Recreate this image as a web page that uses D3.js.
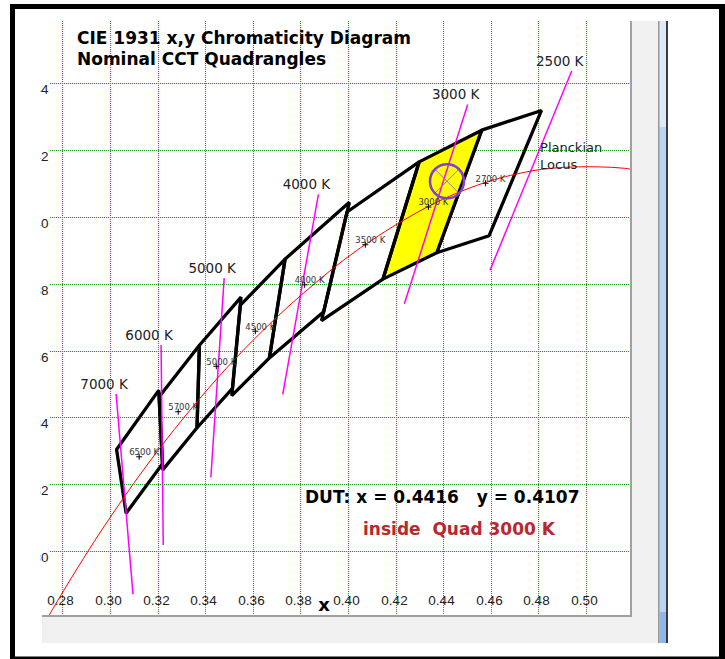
<!DOCTYPE html>
<html>
<head>
<meta charset="UTF-8" />
<title>CIE 1931 x,y Chromaticity Diagram</title>
<script src="https://cdnjs.cloudflare.com/ajax/libs/d3/7.8.5/d3.min.js"></script>
<style>
  body { margin: 0; padding: 0; background: #fff; }
  svg { display: block; font-family: "DejaVu Sans", sans-serif; }
  .grid line { stroke: #1c9a1c; stroke-width: 1px; stroke-dasharray: 1,1; }
  .grid path { display: none; }
  .grid text { font-size: 13.5px; fill: #222; }
  .quad { stroke: #000; stroke-width: 3.3px; stroke-linejoin: bevel; }
  .iso { stroke: #ff00ff; stroke-width: 1.5px; }
  .isoLabel { font-size: 13.5px; fill: #222; text-anchor: middle; }
  .small { font-size: 8.5px; fill: #333; }
  .bold { font-weight: bold; }
</style>
</head>
<body>
<svg id="chart" width="725" height="659"></svg>
<script>
// axis ticks
const xTicks = [0.28, 0.30, 0.32, 0.34, 0.36, 0.38, 0.40, 0.42, 0.44, 0.46, 0.48, 0.50];
const yTicks = [0.30, 0.32, 0.34, 0.36, 0.38, 0.40, 0.42, 0.44];

// ANSI nominal CCT quadrangles
const quadNames = ["2700 K", "3000 K", "3500 K", "4000 K", "4500 K", "5000 K", "5700 K", "6500 K"];
const quadCenters = [
  [0.4578, 0.4101], [0.4338, 0.4030], [0.4073, 0.3917], [0.3818, 0.3797],
  [0.3611, 0.3658], [0.3447, 0.3553], [0.3287, 0.3417], [0.3123, 0.3282]
];
const quadCorners = [
  [[0.4813, 0.4319], [0.4562, 0.4260], [0.4373, 0.3893], [0.4593, 0.3944]],
  [[0.4562, 0.4260], [0.4299, 0.4165], [0.4147, 0.3814], [0.4373, 0.3893]],
  [[0.4299, 0.4165], [0.3996, 0.4015], [0.3889, 0.3690], [0.4147, 0.3814]],
  [[0.4006, 0.4044], [0.3736, 0.3874], [0.3670, 0.3578], [0.3898, 0.3716]],
  [[0.3736, 0.3874], [0.3548, 0.3736], [0.3512, 0.3465], [0.3670, 0.3578]],
  [[0.3551, 0.3760], [0.3376, 0.3616], [0.3366, 0.3369], [0.3515, 0.3487]],
  [[0.3376, 0.3616], [0.3207, 0.3462], [0.3222, 0.3243], [0.3366, 0.3369]],
  [[0.3205, 0.3481], [0.3028, 0.3304], [0.3068, 0.3113], [0.3221, 0.3261]]
];
const activeQuad = "3000 K";

// isotemperature lines
const isoNames = ["7000 K", "6000 K", "5000 K", "4000 K", "3000 K", "2500 K"];
const isoTop = [[0.3026, 0.3470], [0.3215, 0.3617], [0.3480, 0.3817], [0.3876, 0.4068], [0.4503, 0.4337], [0.4940, 0.4437]];
const isoBottom = [[0.3097, 0.2871], [0.3224, 0.3018], [0.3424, 0.3220], [0.3726, 0.3469], [0.4237, 0.3740], [0.4597, 0.3841]];

// Planckian locus (x,y by temperature)
const planckT = [2000, 2100, 2200, 2300, 2400, 2500, 2700, 3000, 3500, 4000, 4500, 5000, 5500, 6000, 6500, 7000, 8000, 9000, 10000, 11000, 12000];
const planckX = [0.5269, 0.5160, 0.5054, 0.4953, 0.4857, 0.4765, 0.4593, 0.4366, 0.4053, 0.3805, 0.3607, 0.3450, 0.3323, 0.3220, 0.3135, 0.3064, 0.2952, 0.2870, 0.2807, 0.2758, 0.2718];
const planckY = [0.4133, 0.4146, 0.4150, 0.4150, 0.4146, 0.4137, 0.4107, 0.4042, 0.3908, 0.3767, 0.3635, 0.3516, 0.3410, 0.3318, 0.3237, 0.3166, 0.3048, 0.2956, 0.2883, 0.2824, 0.2776];

// device under test
const dut = [0.4416, 0.4107];

const svg = d3.select("#chart");

// outer frame
svg.append("rect").attr("x", 10).attr("y", 4).attr("width", 715).attr("height", 655).attr("fill", "#000");
svg.append("rect").attr("x", 15).attr("y", 9).attr("width", 704).attr("height", 647.5).attr("fill", "#fff");

// panel bounds
const pLeft = 15, pRight = 630, pTop = 21, pBottom = 615;

const x = d3.scaleLinear().domain([0.28, 0.50]).range([62.3, 586]);
const y = d3.scaleLinear().domain([0.30, 0.44]).range([551, 83.4]);

svg.append("clipPath").attr("id", "plotClip")
  .append("rect").attr("x", pLeft).attr("y", pTop).attr("width", pRight - pLeft).attr("height", pBottom - pTop);
svg.append("clipPath").attr("id", "labelClip")
  .append("rect").attr("x", 40.5).attr("y", pTop).attr("width", pRight - 40.5).attr("height", pBottom - pTop);

// grid (tick positions snapped to pixel centres so the dotted lines stay crisp)
const gx = svg.append("g").attr("class", "grid")
  .attr("transform", `translate(0,${pTop})`)
  .call(d3.axisBottom(x).tickValues(xTicks).tickSize(pBottom - pTop).tickFormat(d3.format(".2f")));
gx.selectAll(".tick").attr("transform", d => `translate(${Math.round(x(d)) + 0.5},0)`);
gx.selectAll("text").attr("y", 605 - pTop).attr("dy", 0).attr("x", -2);

const gy = svg.append("g").attr("clip-path", "url(#labelClip)")
  .append("g").attr("class", "grid")
  .attr("transform", "translate(50,0)")
  .call(d3.axisLeft(y).tickValues(yTicks).tickSize(-(pRight - 50)).tickPadding(1.5).tickFormat(d3.format(".2f")));
gy.selectAll(".tick").attr("transform", d => `translate(0,${Math.round(y(d)) + 0.5})`);
gy.selectAll("text").attr("dy", 0).attr("y", 10);

// title
svg.append("text").attr("class", "bold").attr("x", 77).attr("y", 44).attr("font-size", 17).text("CIE 1931 x,y Chromaticity Diagram");
svg.append("text").attr("class", "bold").attr("x", 77).attr("y", 65).attr("font-size", 17).text("Nominal CCT Quadrangles");

const plot = svg.append("g").attr("clip-path", "url(#plotClip)");

const line = d3.line().x(d => x(d[0])).y(d => y(d[1]));

// quadrangles
plot.selectAll(".quad")
  .data(quadCorners)
  .join("path")
  .attr("class", "quad")
  .attr("fill", (d, i) => quadNames[i] === activeQuad ? "#ffff00" : "none")
  .attr("d", d => line(d) + "Z");

// isotemperature lines
plot.selectAll(".iso")
  .data(isoNames)
  .join("line")
  .attr("class", "iso")
  .attr("x1", (d, i) => x(isoTop[i][0]))
  .attr("y1", (d, i) => y(isoTop[i][1]))
  .attr("x2", (d, i) => x(isoBottom[i][0]))
  .attr("y2", (d, i) => y(isoBottom[i][1]));

svg.selectAll(".isoLabel")
  .data(isoNames)
  .join("text")
  .attr("class", "isoLabel")
  .attr("x", (d, i) => x(isoTop[i][0]) - 12)
  .attr("y", (d, i) => y(isoTop[i][1]) - 5)
  .text(d => d);

// Planckian locus
const planck = planckT.map((t, i) => [planckX[i], planckY[i]]);
plot.append("path")
  .attr("d", d3.line().x(d => x(d[0])).y(d => y(d[1])).curve(d3.curveCatmullRom)(planck))
  .attr("fill", "none")
  .attr("stroke", "#ff0000")
  .attr("stroke-width", 1);

svg.append("text").attr("x", x(0.4807)).attr("y", y(0.4195)).attr("font-size", 13).attr("fill", "#222").text("Planckian");
svg.append("text").attr("x", x(0.4807)).attr("y", y(0.4144)).attr("font-size", 13).attr("fill", "#222").text("Locus");

// quad center markers
const centers = svg.append("g");
quadCenters.forEach((c, i) => {
  const cx = x(c[0]), cy = y(c[1]);
  centers.append("text").attr("class", "small").attr("x", cx - 10).attr("y", cy - 1.5).text(quadNames[i]);
  centers.append("path").attr("d", `M${cx - 3},${cy}H${cx + 3}M${cx},${cy - 3}V${cy + 3}`)
    .attr("stroke", "#000").attr("stroke-width", 1);
});

// DUT marker
const dx = x(dut[0]), dy = y(dut[1]);
svg.append("path")
  .attr("d", `M${dx - 12},${dy - 12}L${dx + 12},${dy + 12}M${dx - 12},${dy + 12}L${dx + 12},${dy - 12}`)
  .attr("stroke", "#9476c4").attr("stroke-width", 1);
svg.append("circle").attr("cx", dx).attr("cy", dy).attr("r", 17)
  .attr("fill", "none").attr("stroke", "#8040d8").attr("stroke-width", 2.5);

// readout
svg.append("text").attr("class", "bold").attr("x", 305).attr("y", 502.5).attr("font-size", 17).attr("fill", "#000")
  .style("white-space", "pre")
  .text(`DUT: x = ${dut[0].toFixed(4)}   y = ${dut[1].toFixed(4)}`);
svg.append("text").attr("class", "bold").attr("x", 363).attr("y", 535).attr("font-size", 17).attr("fill", "#b8282e")
  .style("white-space", "pre")
  .text(`inside  Quad ${activeQuad}`);

// axis title
svg.append("text").attr("class", "bold").attr("x", x(0.39)).attr("y", 611).attr("font-size", 18)
  .attr("text-anchor", "middle").text("x");

// window chrome: bottom and right strips, scrollbar
svg.append("rect").attr("x", 42).attr("y", 617).attr("width", 616).attr("height", 26).attr("fill", "#f0f0f0");
svg.append("rect").attr("x", 632).attr("y", pTop).attr("width", 26).attr("height", 622).attr("fill", "#f0f0f0");
svg.append("path").attr("d", `M42,616H632M631,${pTop}V617`).attr("stroke", "#a0a0a0").attr("stroke-width", 2);
svg.append("rect").attr("x", 658).attr("y", pTop).attr("width", 10).attr("height", 622).attr("fill", "#999");
svg.append("rect").attr("x", 659.5).attr("y", pTop).attr("width", 6.5).attr("height", 106).attr("fill", "#dde9f7");
svg.append("rect").attr("x", 659.5).attr("y", 127).attr("width", 6.5).attr("height", 516).attr("fill", "#bad5f3");
svg.append("rect").attr("x", 659.5).attr("y", 612).attr("width", 6.5).attr("height", 31).attr("fill", "#90b6e8");
svg.append("rect").attr("x", 666).attr("y", pTop).attr("width", 2).attr("height", 622).attr("fill", "#3a3a3a");
</script>
</body>
</html>
